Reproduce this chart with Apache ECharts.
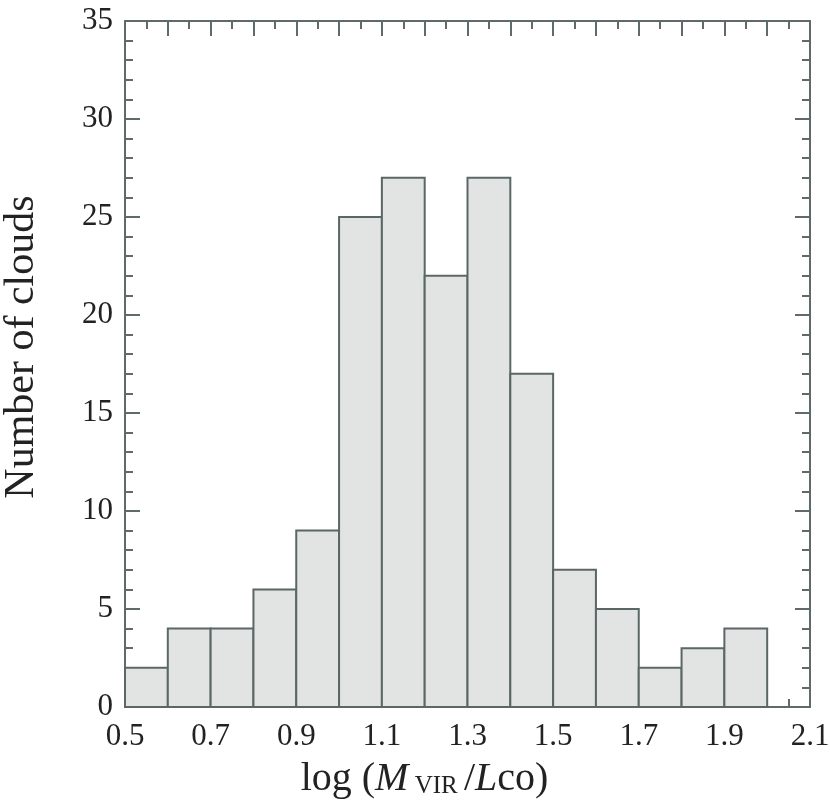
<!DOCTYPE html>
<html>
<head>
<meta charset="utf-8">
<script src="https://cdn.jsdelivr.net/npm/echarts@6/dist/echarts.min.js"></script>
<style>
  html, body { margin: 0; padding: 0; background: #fff; }
  #main { width: 830px; height: 812px; }
</style>
</head>
<body>
<div id="main"></div>
<script>
// bin edges (left) and counts
var binStart = [0.5, 0.6, 0.7, 0.8, 0.9, 1.0, 1.1, 1.2, 1.3, 1.4, 1.5, 1.6, 1.7, 1.8, 1.9];
var binWidth = 0.1;
var counts = [2, 4, 4, 6, 9, 25, 27, 22, 27, 17, 7, 5, 2, 3, 4];
var xLabels = ['0.5', '0.7', '0.9', '1.1', '1.3', '1.5', '1.7', '1.9', '2.1'];

var chart = echarts.init(document.getElementById('main'));

var axisColor = '#5f6a6a';
var font = 'Liberation Serif, Times New Roman, serif';

var histData = [];
for (var i = 0; i < binStart.length; i++) {
  histData.push([binStart[i], binStart[i] + binWidth, counts[i]]);
}

function xAxisBase(pos, showLabel) {
  return {
    type: 'value',
    position: pos,
    min: 0.5,
    max: 2.1,
    interval: 0.1,
    axisLine: { show: true, onZero: false, lineStyle: { color: axisColor, width: 2 } },
    axisTick: { show: true, inside: true, length: 15, lineStyle: { color: axisColor, width: 2 } },
    minorTick: { show: true, splitNumber: 2, length: 8, lineStyle: { color: axisColor, width: 2 } },
    splitLine: { show: false },
    axisLabel: {
      show: showLabel,
      margin: 14,
      color: '#222',
      fontFamily: font,
      fontSize: 31,
      formatter: function (v) {
        var s = v.toFixed(1);
        return xLabels.indexOf(s) >= 0 ? s : '';
      }
    }
  };
}

function yAxisBase(pos, showLabel) {
  return {
    type: 'value',
    position: pos,
    min: 0,
    max: 35,
    interval: 5,
    axisLine: { show: true, onZero: false, lineStyle: { color: axisColor, width: 2 } },
    axisTick: { show: true, inside: true, length: 15, lineStyle: { color: axisColor, width: 2 } },
    minorTick: { show: true, splitNumber: 5, length: 8, lineStyle: { color: axisColor, width: 2 } },
    splitLine: { show: false },
    axisLabel: {
      show: showLabel,
      margin: 12,
      color: '#222',
      fontFamily: font,
      fontSize: 31
    }
  };
}

var xBottom = xAxisBase('bottom', true);
xBottom.name = '{r|log (}{i|M}{s| VIR }{r|/}{i|L}{r|co)}';
xBottom.nameLocation = 'middle';
xBottom.nameGap = 52;
xBottom.nameTextStyle = {
  padding: [0, 86, 0, 0],
  rich: {
    r: { fontFamily: font, fontSize: 40, color: '#222', verticalAlign: 'bottom' },
    i: { fontFamily: font, fontSize: 40, fontStyle: 'italic', color: '#222', verticalAlign: 'bottom' },
    s: { fontFamily: font, fontSize: 25, color: '#222', verticalAlign: 'bottom' }
  }
};

var yLeft = yAxisBase('left', true);
yLeft.name = 'Number of clouds';
yLeft.nameLocation = 'middle';
yLeft.nameGap = 82;
yLeft.nameTextStyle = {
  fontFamily: font,
  fontSize: 42,
  color: '#222',
  padding: [0, 0, 0, 34]
};

var option = {
  backgroundColor: '#fff',
  animation: false,
  grid: { left: 125, right: 20, top: 21, bottom: 105, outerBoundsMode: 'none', containLabel: false },
  xAxis: [xBottom, xAxisBase('top', false)],
  yAxis: [yLeft, yAxisBase('right', false)],
  series: [{
    type: 'custom',
    xAxisIndex: 0,
    yAxisIndex: 0,
    data: histData,
    encode: { x: [0, 1], y: 2 },
    renderItem: function (params, api) {
      var p0 = api.coord([api.value(0), 0]);
      var p1 = api.coord([api.value(1), api.value(2)]);
      return {
        type: 'rect',
        shape: { x: p0[0], y: p1[1], width: p1[0] - p0[0], height: p0[1] - p1[1] },
        style: { fill: '#e1e4e3', stroke: '#5b6766', lineWidth: 2 }
      };
    }
  }]
};

chart.setOption(option);
</script>
</body>
</html>
